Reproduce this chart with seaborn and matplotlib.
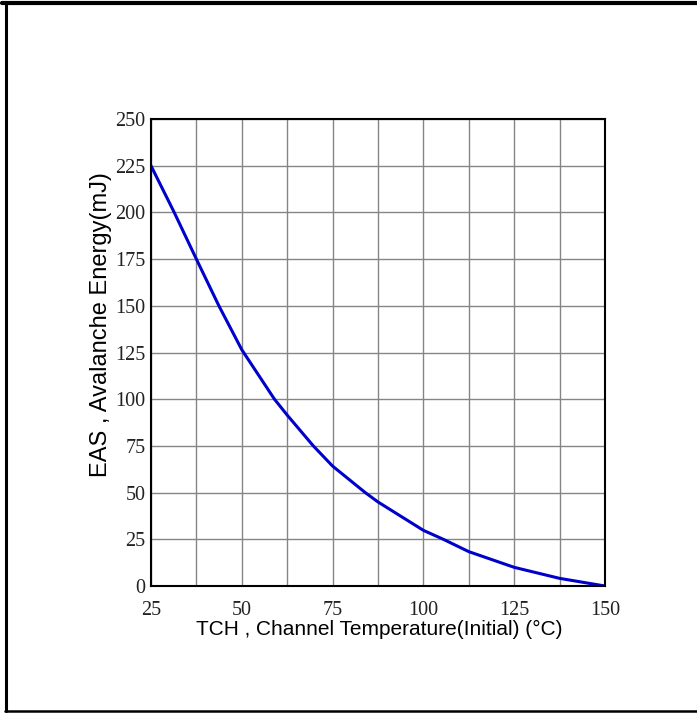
import pandas as pd
import matplotlib.pyplot as plt
from matplotlib.lines import Line2D
import seaborn as sns

# values (grid points plus gridline crossings)
temp_c = [25, 31.4, 37.5, 43.7, 50, 59, 62.5, 69.7, 75, 84, 87.5, 100, 105.5, 112.5, 125, 137.5, 150]
eas_mj = [225, 200, 175, 150, 126.5, 100, 91.5, 75, 64.2, 50, 45, 29.8, 25, 18.4, 10, 4.1, 0]
x_ticks = [25, 50, 75, 100, 125, 150]
y_ticks = [0, 25, 50, 75, 100, 125, 150, 175, 200, 225, 250]

df = pd.DataFrame({"temp": temp_c, "eas": eas_mj})

sns.set_theme(style="white")
plt.rcParams["font.family"] = ["Liberation Sans", "DejaVu Sans"]

fig = plt.figure(figsize=(6.97, 7.13), dpi=100)
ax = fig.add_axes([0.2166, 0.1781, 0.6514, 0.655])

sns.lineplot(data=df, x="temp", y="eas", ax=ax, color="#0000cc", linewidth=2.2,
             solid_joinstyle="round", solid_capstyle="round")

ax.set_xlim(25, 150)
ax.set_ylim(0, 250)
ax.set_xticks(x_ticks)
ax.set_yticks(y_ticks)
ax.set_xticks([t + 12.5 for t in x_ticks[:-1]], minor=True)
ax.grid(True, which="both", axis="x", color="#858585", linewidth=1.0)
ax.grid(True, which="major", axis="y", color="#858585", linewidth=1.0)
ax.tick_params(which="both", length=0)
ax.tick_params(axis="x", pad=11)
ax.tick_params(axis="y", pad=4)
for lab in ax.get_xticklabels() + ax.get_yticklabels():
    lab.set_fontfamily(["Liberation Serif", "DejaVu Serif"])
    lab.set_fontsize(14.5)
    lab.set_color("#222222")

for s in ax.spines.values():
    s.set_color("black")
    s.set_linewidth(1.5)

ax.set_xlabel("TCH , Channel Temperature(Initial) (°C)", fontsize=15, color="black", va="top")
ax.xaxis.set_label_coords(0.502, -0.072)
ax.set_ylabel("EAS , Avalanche Energy(mJ)", fontsize=17, color="black")
ax.yaxis.set_label_coords(-0.086, 0.559)

# page border
fig.add_artist(Line2D([0.003, 1.0], [0.9955, 0.9955], color="black", linewidth=3, transform=fig.transFigure))
fig.add_artist(Line2D([0.0087, 0.0087], [0.003, 0.996], color="black", linewidth=2.2, transform=fig.transFigure))
fig.add_artist(Line2D([0.007, 1.0], [0.003, 0.003], color="black", linewidth=1.8, transform=fig.transFigure))

fig.savefig("out.png", dpi=100)
